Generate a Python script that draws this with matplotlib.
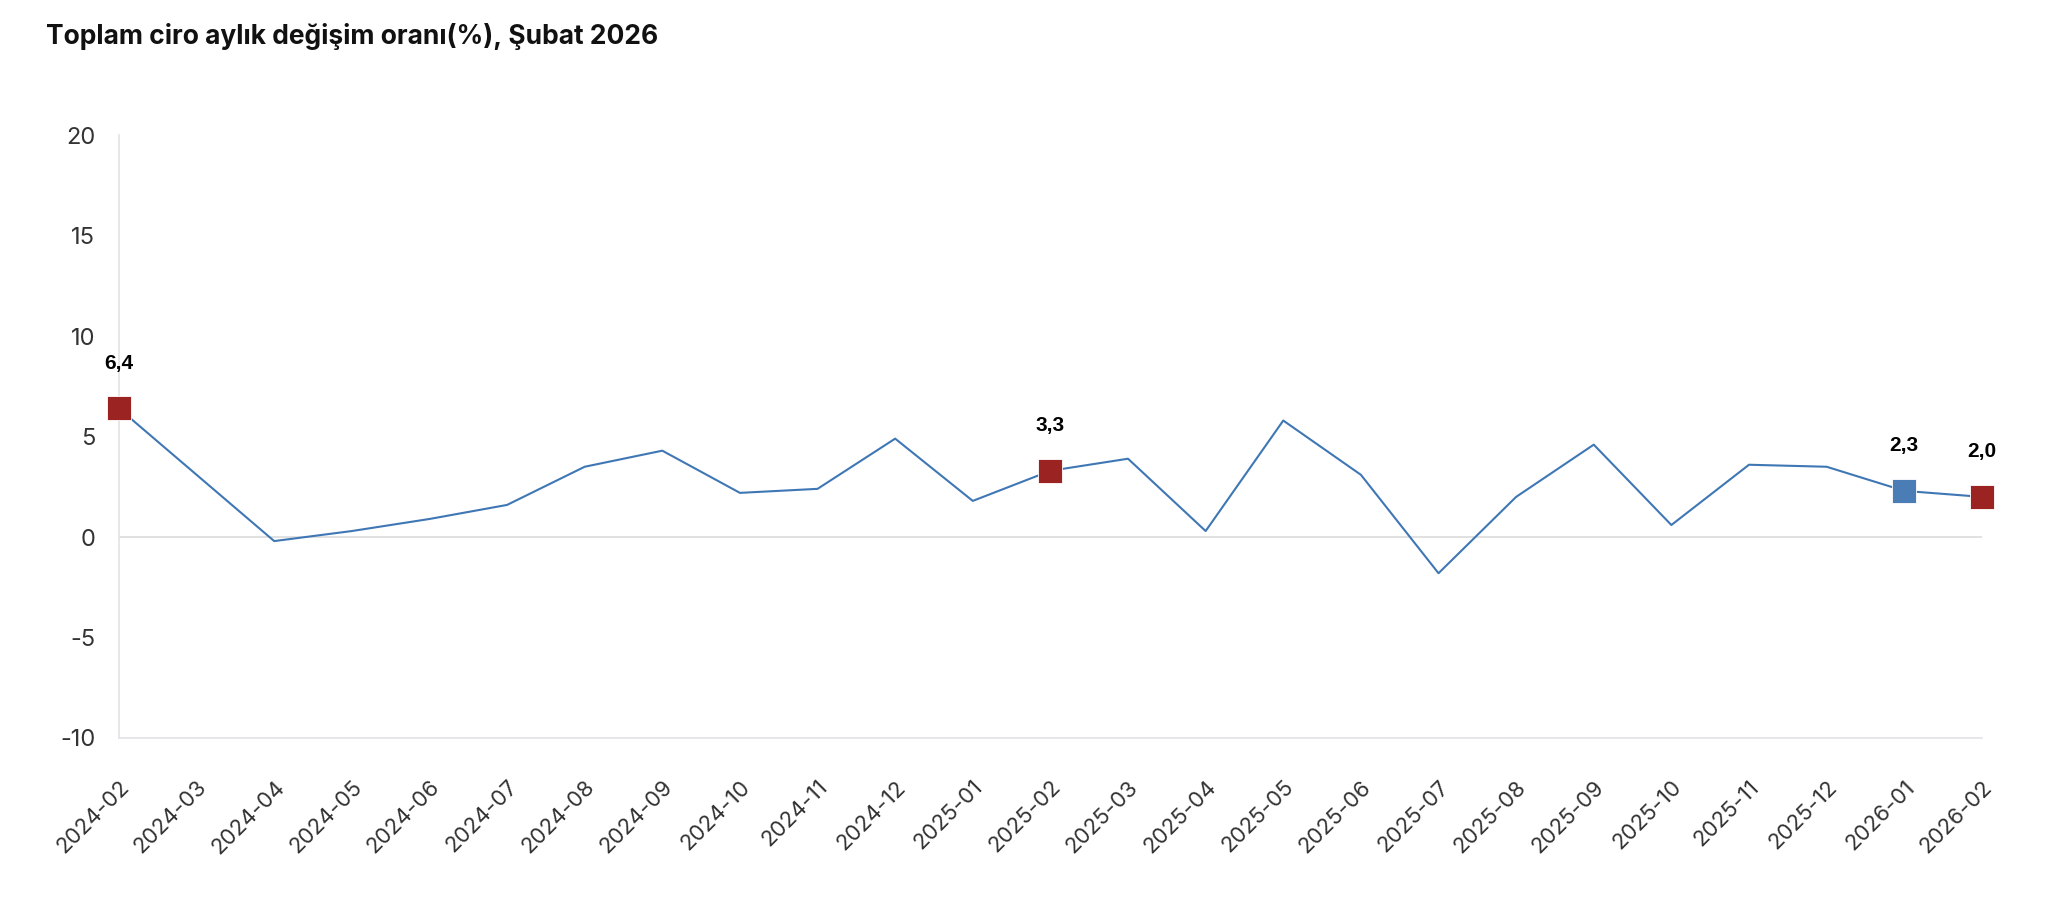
import matplotlib
matplotlib.use("Agg")
import matplotlib.pyplot as plt

months = ["2024-02", "2024-03", "2024-04", "2024-05", "2024-06", "2024-07", "2024-08",
          "2024-09", "2024-10", "2024-11", "2024-12", "2025-01", "2025-02", "2025-03",
          "2025-04", "2025-05", "2025-06", "2025-07", "2025-08", "2025-09", "2025-10",
          "2025-11", "2025-12", "2026-01", "2026-02"]
values = [6.4, 3.1, -0.2, 0.3, 0.9, 1.6, 3.5, 4.3, 2.2, 2.4, 4.9, 1.8, 3.3, 3.9,
          0.3, 5.8, 3.1, -1.8, 2.0, 4.6, 0.6, 3.6, 3.5, 2.3, 2.0]
highlight_idx = [0, 12, 23, 24]
highlight_colors = ["#9b2423", "#9b2423", "#4a7db5", "#9b2423"]
yticks = [-10, -5, 0, 5, 10, 15, 20]
title = "Toplam ciro aylık değişim oranı(%), Şubat 2026"

fig = plt.figure(figsize=(20.58, 9.14), dpi=100)
ax = fig.add_axes([0.0578, 0.1926, 0.9052, 0.6594])

x = list(range(len(months)))
ax.plot(x, values, color="#3f77b5", lw=1.5, zorder=2)
for i, c in zip(highlight_idx, highlight_colors):
    ax.plot(x[i], values[i], marker="s", ms=17.5, color=c, mec="white", mew=0.6,
            linestyle="none", zorder=3, clip_on=False)
    ax.annotate(f"{values[i]:.1f}".replace(".", ","), (x[i], values[i]),
                xytext=(0, 45), textcoords="offset pixels", ha="center", va="center",
                fontsize=15, fontweight="bold", family=["Liberation Sans", "DejaVu Sans"],
                color="black", annotation_clip=False)

ax.axhline(0, color="#dcdcdc", lw=1.2, zorder=1)
ax.set_xlim(0, len(months) - 1)
ax.set_ylim(-10, 20)
ax.set_yticks(yticks)
ax.set_yticklabels([str(v) for v in yticks], fontsize=17, color="#333333",
                   family=["Inter", "DejaVu Sans"])
ax.set_xticks(x)
ax.set_xticklabels(months, rotation=45, ha="right", va="top", rotation_mode="anchor",
                   fontsize=16, color="#333333", family=["Inter", "DejaVu Sans"])
ax.tick_params(axis="both", length=0)
ax.tick_params(axis="x", pad=28)
ax.tick_params(axis="y", pad=17)
for s in ["top", "right"]:
    ax.spines[s].set_visible(False)
for s in ["left", "bottom"]:
    ax.spines[s].set_color("#e3e3e8")
    ax.spines[s].set_linewidth(1.2)

fig.text(46 / 2058, 1 - 37 / 914, title, fontsize=19, fontweight="bold",
         family=["Inter", "DejaVu Sans"], ha="left", va="center", color="#111111")

fig.savefig("out.png", dpi=100, facecolor="white")
